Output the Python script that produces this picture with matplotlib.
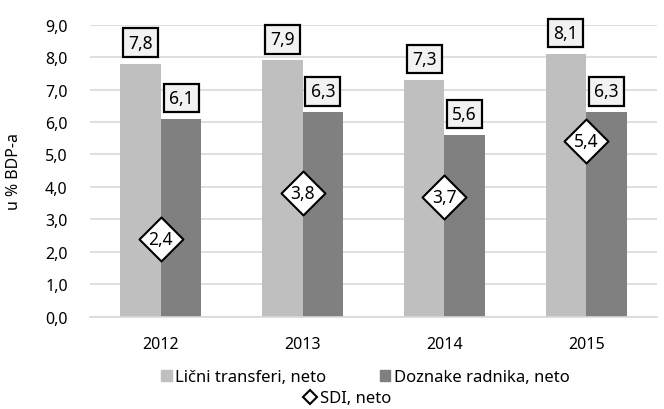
import matplotlib
matplotlib.use("Agg")
import matplotlib.pyplot as plt
from matplotlib.ticker import FuncFormatter
from matplotlib.lines import Line2D
from matplotlib.patches import Patch
import numpy as np

plt.rcParams['font.family'] = ['Noto Sans', 'DejaVu Sans']

years = ['2012', '2013', '2014', '2015']
licni = [7.8, 7.9, 7.3, 8.1]
doznake = [6.1, 6.3, 5.6, 6.3]
sdi = [2.4, 3.8, 3.7, 5.4]

def fmt(v):
    return f"{v:.1f}".replace('.', ',')

fig = plt.figure(figsize=(6.64, 4.10), dpi=100)
ax = fig.add_axes([0.1355, 0.2244, 0.854, 0.7134])

x = np.arange(len(years))
w = 0.286
c_light = '#bfbfbf'
c_dark = '#808080'
ax.bar(x - w/2, licni, w, color=c_light, zorder=2)
ax.bar(x + w/2, doznake, w, color=c_dark, zorder=2)

box = dict(boxstyle='square,pad=0.3', fc='#f2f2f2', ec='black', lw=1.6)
for i in range(len(years)):
    ax.annotate(fmt(licni[i]), (x[i] - w/2, licni[i]), xytext=(0, 15),
                textcoords='offset points', ha='center', va='center',
                fontsize=12.5, bbox=box, zorder=5)
    ax.annotate(fmt(doznake[i]), (x[i] + w/2, doznake[i]), xytext=(0, 15),
                textcoords='offset points', ha='center', va='center',
                fontsize=12.5, bbox=box, zorder=5)

ax.scatter(x, sdi, marker='D', s=500, facecolor='white', edgecolor='black',
           linewidth=1.5, zorder=4)
for i in range(len(years)):
    ax.text(x[i], sdi[i], fmt(sdi[i]), ha='center', va='center', fontsize=12.5, zorder=6)

ax.set_xlim(-0.5, 3.5)
ax.set_ylim(0, 9)
ax.set_yticks(np.arange(0, 9.01, 1.0))
ax.yaxis.set_major_formatter(FuncFormatter(lambda v, p: fmt(v)))
ax.set_xticks(x)
ax.set_xticklabels(years)
ax.tick_params(axis='both', length=0, labelsize=11.5, colors='black')
ax.tick_params(axis='x', pad=14)
ax.tick_params(axis='y', pad=16)
ax.grid(axis='y', color='#d9d9d9', lw=1.2, zorder=0)
for s in ['top', 'right', 'left']:
    ax.spines[s].set_visible(False)
ax.spines['bottom'].set_color('#d9d9d9')
ax.spines['bottom'].set_linewidth(1.2)
ax.set_ylabel('u % BDP-a', fontsize=11.5)
ax.yaxis.set_label_coords(-0.12, 0.5)

h1 = [Patch(color=c_light, label='Lični transferi, neto'),
      Patch(color=c_dark, label='Doznake radnika, neto')]
fig.legend(handles=h1, loc='center', bbox_to_anchor=(0.55, 0.077), ncol=2,
           frameon=False, fontsize=12, handlelength=0.65, handleheight=0.65,
           handletextpad=0.2, columnspacing=3.2)
h2 = [Line2D([], [], marker='D', ls='none', mfc='white', mec='black', ms=7, mew=1.5,
             label='SDI, neto')]
fig.legend(handles=h2, loc='center', bbox_to_anchor=(0.523, 0.026), frameon=False,
           fontsize=12, handlelength=0.8, handletextpad=0.2)

fig.savefig('out.png', dpi=100)
